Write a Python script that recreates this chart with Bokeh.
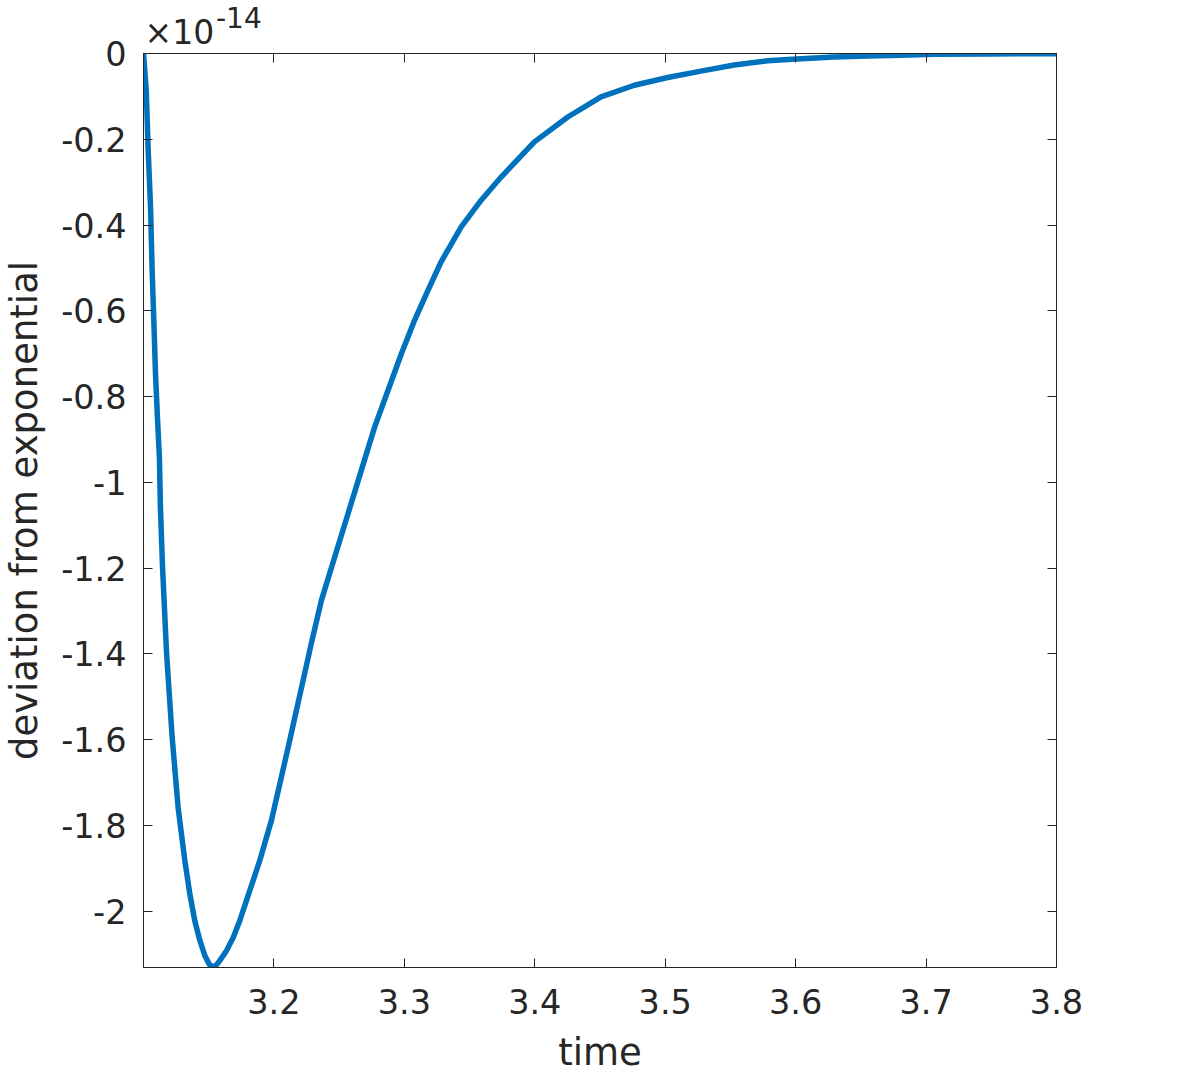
from bokeh.plotting import figure
from bokeh.models import (LinearAxis, FixedTicker, Range1d, Label,
                          CustomJSTickFormatter, ColumnDataSource)
from bokeh.embed import file_html
from bokeh.resources import INLINE

# ---- data (deviation in units of 1e-14) ----
time = [3.1000, 3.1021, 3.1036, 3.1054, 3.1067, 3.1080, 3.1092, 3.1107,
        3.1122, 3.1130, 3.1146, 3.1177, 3.1220, 3.1266, 3.1317, 3.1355,
        3.1393, 3.1432, 3.1470, 3.1505, 3.1534, 3.1560, 3.1585, 3.1636,
        3.1688, 3.1738, 3.1789, 3.1841, 3.1891, 3.1981, 3.2109, 3.2236,
        3.2287, 3.2364, 3.2466, 3.2568, 3.2670, 3.2772, 3.2875, 3.2977,
        3.3078, 3.3181, 3.3283, 3.3436, 3.3589, 3.3742, 3.3997, 3.4253,
        3.4508, 3.4763, 3.5019, 3.5274, 3.5529, 3.5785, 3.6040, 3.6295,
        3.6551, 3.6806, 3.7061, 3.7500, 3.8000]
deviation = [0.000, -0.086, -0.226, -0.359, -0.513, -0.630, -0.747, -0.849,
             -0.943, -1.060, -1.198, -1.399, -1.595, -1.760, -1.882, -1.959,
             -2.022, -2.068, -2.103, -2.124, -2.130, -2.125, -2.115, -2.092,
             -2.061, -2.022, -1.975, -1.928, -1.882, -1.788, -1.618, -1.445,
             -1.375, -1.275, -1.174, -1.073, -0.972, -0.871, -0.785, -0.700,
             -0.622, -0.552, -0.485, -0.404, -0.342, -0.288, -0.206, -0.148,
             -0.101, -0.074, -0.056, -0.041, -0.027, -0.017, -0.012, -0.008,
             -0.006, -0.004, -0.002, -0.001, -0.0005]

x_ticks = [3.2, 3.3, 3.4, 3.5, 3.6, 3.7, 3.8]
x_tick_labels = ["3.2", "3.3", "3.4", "3.5", "3.6", "3.7", "3.8"]
y_ticks = [0, -0.2, -0.4, -0.6, -0.8, -1, -1.2, -1.4, -1.6, -1.8, -2]
y_tick_labels = ["0", "-0.2", "-0.4", "-0.6", "-0.8", "-1", "-1.2", "-1.4",
                 "-1.6", "-1.8", "-2"]
x_label = "time"
y_label = "deviation from exponential"
mult_base = "\u00d710"
mult_exp = "-14"

FONT = "DejaVu Sans"
TXT = "#262626"
BLUE = "#0072BD"

p = figure(width=1180, height=1077,
           x_range=Range1d(3.1, 3.8), y_range=Range1d(-2.131, 0),
           output_backend="svg", toolbar_location=None,
           min_border_left=135, min_border_right=124,
           min_border_top=53, min_border_bottom=110)
p.xgrid.visible = False
p.ygrid.visible = False
p.outline_line_color = TXT
p.outline_line_width = 1
p.background_fill_color = None
p.border_fill_color = None

src = ColumnDataSource(dict(t=time, d=deviation))
p.line("t", "d", source=src, line_width=5.5, line_color=BLUE,
       line_join="round")


def style_axis(ax, ticks, labels, show_labels=True):
    ax.ticker = FixedTicker(ticks=ticks)
    ax.major_tick_in = 9
    ax.major_tick_out = 0
    ax.major_tick_line_color = TXT
    ax.major_tick_line_width = 1
    ax.minor_tick_line_color = None
    ax.axis_line_color = TXT
    ax.axis_line_width = 1
    if show_labels:
        ax.major_label_overrides = {t: l for t, l in zip(ticks, labels)}
        ax.major_label_text_font = FONT
        ax.major_label_text_font_size = "33.5px"
        ax.major_label_text_color = TXT
    else:
        ax.formatter = CustomJSTickFormatter(code="return ''")
        ax.major_label_text_font_size = "0px"
        ax.major_label_standoff = 0


xa = p.xaxis[0]
style_axis(xa, x_ticks, x_tick_labels)
xa.major_label_standoff = 21
xa.axis_label = x_label
xa.axis_label_text_font = FONT
xa.axis_label_text_font_size = "37px"
xa.axis_label_text_font_style = "normal"
xa.axis_label_text_color = TXT
xa.axis_label_standoff = 14

ya = p.yaxis[0]
style_axis(ya, y_ticks, y_tick_labels)
ya.major_label_standoff = 17
ya.axis_label = y_label
ya.axis_label_text_font = FONT
ya.axis_label_text_font_size = "37px"
ya.axis_label_text_font_style = "normal"
ya.axis_label_text_color = TXT
ya.axis_label_standoff = 12

top = LinearAxis()
style_axis(top, x_ticks, x_tick_labels, show_labels=False)
p.add_layout(top, "above")
right = LinearAxis()
style_axis(right, y_ticks, y_tick_labels, show_labels=False)
p.add_layout(right, "right")

# exponent multiplier: held in a side panel (so it is not clipped to the
# frame); its position still comes from the data scales
p.add_layout(Label(x=3.1, y=0, x_offset=1, y_offset=21.4, text=mult_base,
                   text_font=FONT, text_font_size="33px", text_color=TXT,
                   text_baseline="middle"), "right")
p.add_layout(Label(x=3.1, y=0, x_offset=72.5, y_offset=35.7, text=mult_exp,
                   text_font=FONT, text_font_size="28px", text_color=TXT,
                   text_baseline="middle"), "right")

open("out.html", "w").write(file_html(p, INLINE))
